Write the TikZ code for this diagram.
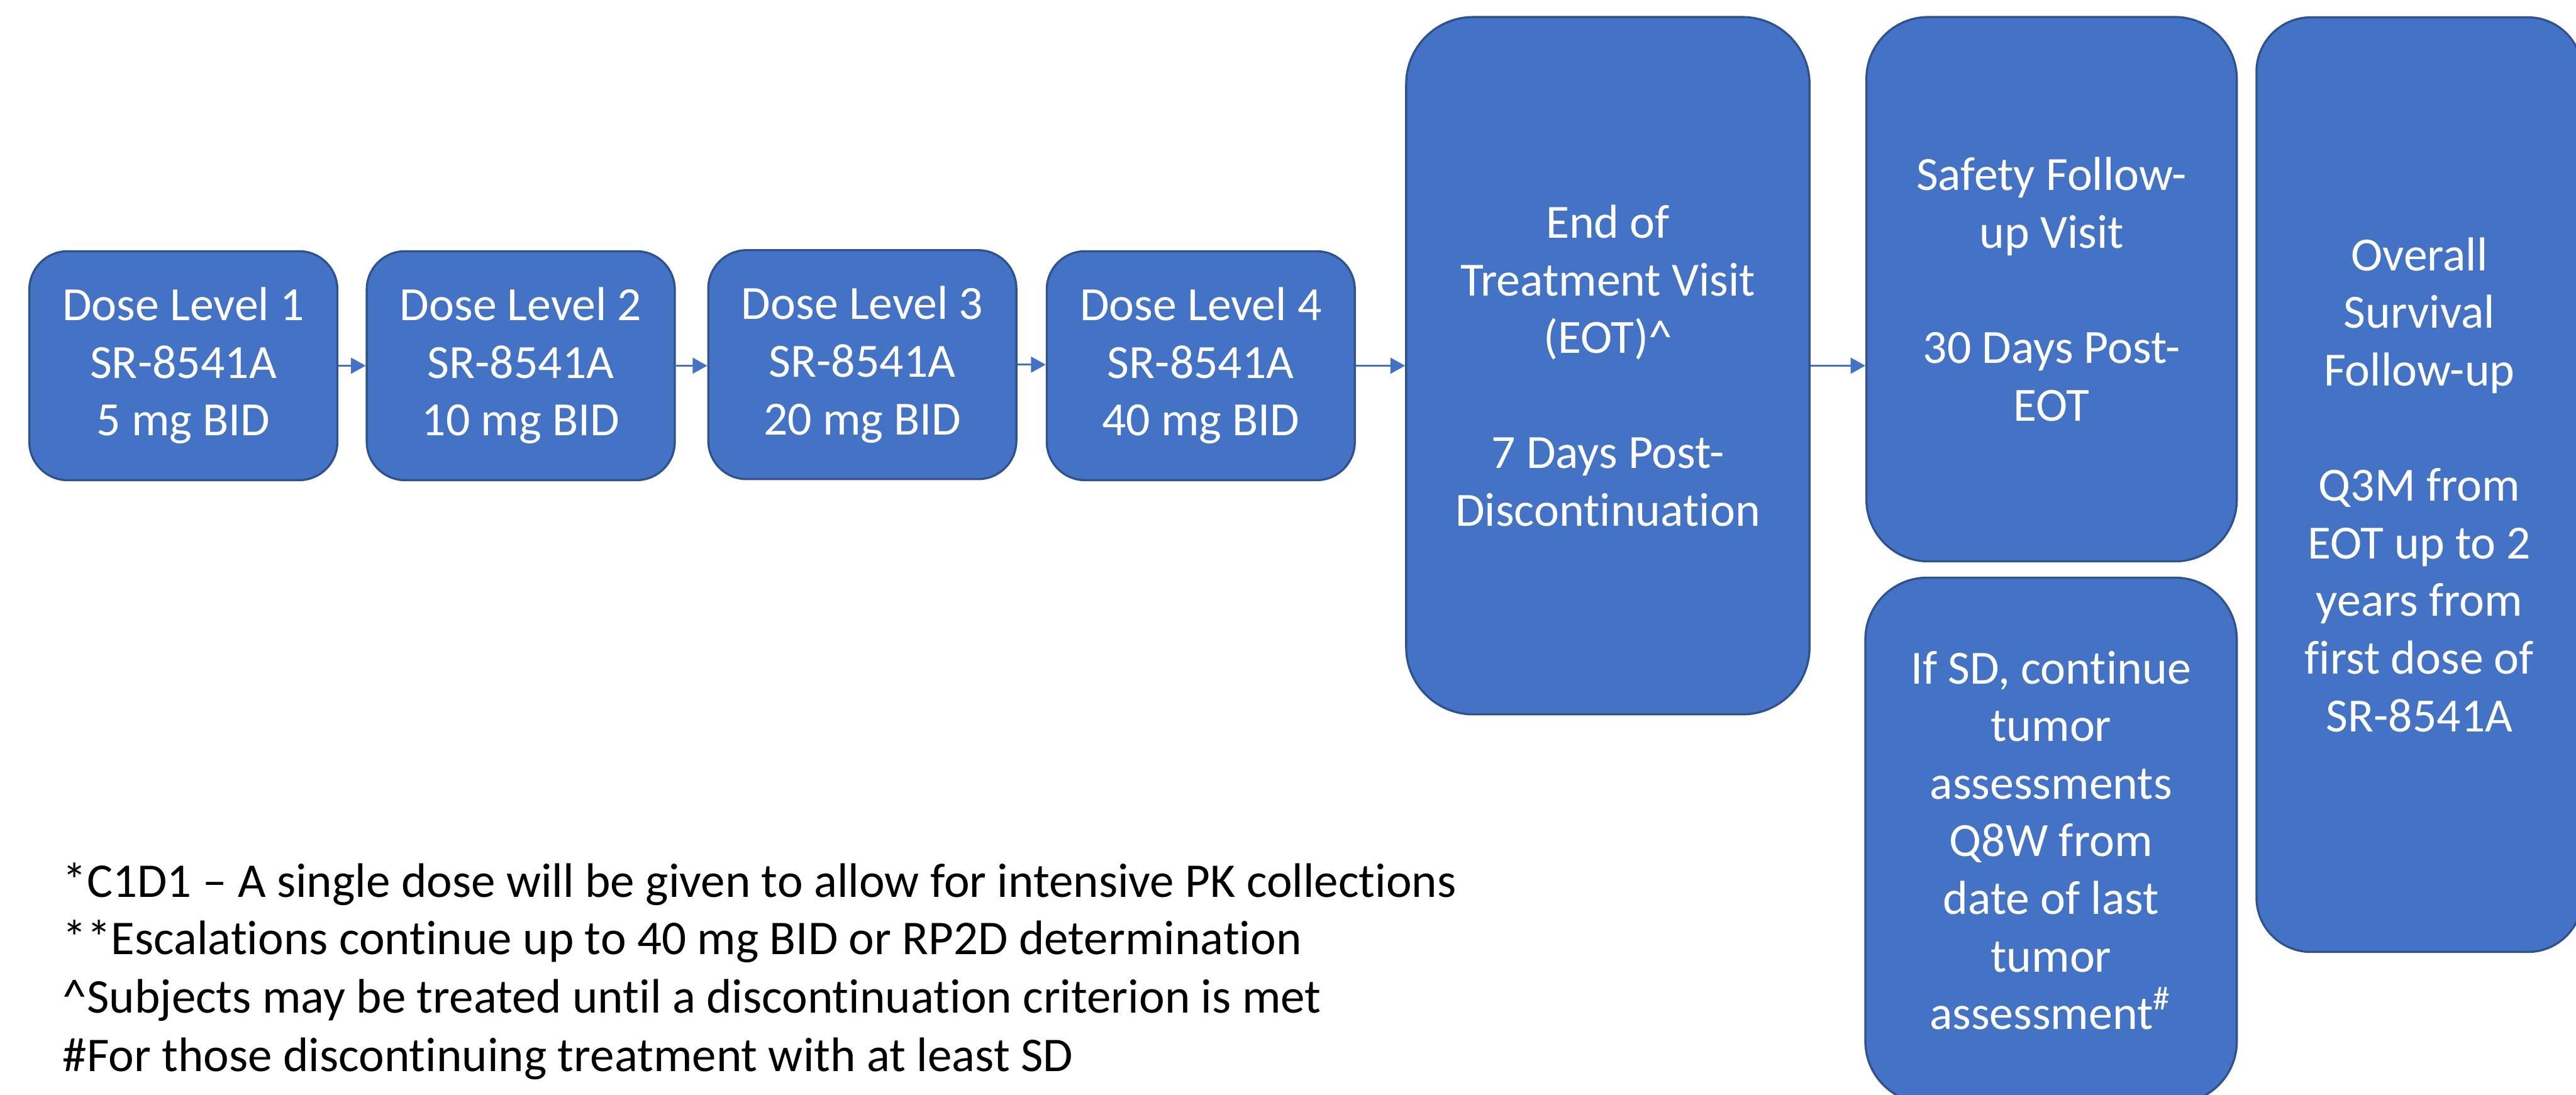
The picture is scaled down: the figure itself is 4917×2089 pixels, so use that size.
\documentclass[tikz,border=0pt]{standalone}
\usepackage{fontspec}
\setmainfont[Ligatures=NoCommon]{Carlito}
\usetikzlibrary{arrows.meta,calc}
\definecolor{boxfill}{HTML}{4472C4}
\definecolor{boxline}{HTML}{2F528F}
\begin{document}
\begin{tikzpicture}[x=0.1pt,y=-0.1pt,
  box/.style={draw=boxline,line width=0.4pt,fill=boxfill,text=white,align=center,
    inner sep=0pt,font=\fontsize{9.1}{11}\selectfont},
  dosebox/.style={box,minimum width=58.8pt,minimum height=43.7pt,rounded corners=7.3pt},
  conn/.style={draw=boxfill,line width=0.4pt,-{Triangle[length=2.8pt,width=3pt]}},
  note/.style={anchor=base west,inner sep=0pt,font=\fontsize{9.25}{11}\selectfont,text=black}]
\useasboundingbox (0,0) rectangle (4917,2089);
\clip (0,0) rectangle (4917,2089);
\fill[white] (0,0) rectangle (4917,2089);
% dose boxes
\node[dosebox] (d1) at (350,698) {Dose Level 1\\SR-8541A\\5 mg BID};
\node[dosebox] (d2) at (994,698) {Dose Level 2\\SR-8541A\\10 mg BID};
\node[dosebox] (d3) at (1646,696) {Dose Level 3\\SR-8541A\\20 mg BID};
\node[dosebox] (d4) at (2292,698) {Dose Level 4\\SR-8541A\\40 mg BID};
% end of treatment
\node[box,minimum width=77pt,minimum height=133.1pt,rounded corners=12.8pt] (eot) at (3069,698)
  {End of\\Treatment Visit\\(EOT)\^{}\\[11pt]7 Days Post-\\Discontinuation};
% safety follow-up
\node[box,minimum width=70.7pt,minimum height=103.9pt,rounded corners=11.8pt] (safe) at (3916,552)
  {Safety Follow-\\up Visit\\[11pt]30 Days Post-\\EOT};
% if SD
\node[box,minimum width=70.9pt,minimum height=100.3pt,rounded corners=11.8pt] (ifsd) at (3915,1604)
  {If SD, continue\\tumor\\assessments\\Q8W from\\date of last\\tumor\\assessment\textsuperscript{\#}};
% overall survival
\node[box,minimum width=62.2pt,minimum height=178.4pt,rounded corners=10.4pt] (os) at (4618,925)
  {Overall\\Survival\\Follow-up\\[11pt]Q3M from\\EOT up to 2\\years from\\first dose of\\SR-8541A};
% connectors
\draw[conn] (d1.east) -- (d1.east -| d2.west);
\draw[conn] (d2.east) -- (d2.east -| d3.west);
\draw[conn] (d3.east) -- (d3.east -| d4.west);
\draw[conn] (d4.east) -- (d4.east -| eot.west);
\draw[conn] (eot.east) -- (eot.east -| safe.west);
% footnotes
\node[note] (n1) at (118,1712) {*C1D1 – A single dose will be given to allow for intensive PK collections};
\node[note] (n2) at (118,1822) {**Escalations continue up to 40 mg BID or RP2D determination};
\node[note] (n3) at (118,1933) {\^{}Subjects may be treated until a discontinuation criterion is met};
\node[note] (n4) at (118,2045) {\#For those discontinuing treatment with at least SD};
\end{tikzpicture}
\end{document}
